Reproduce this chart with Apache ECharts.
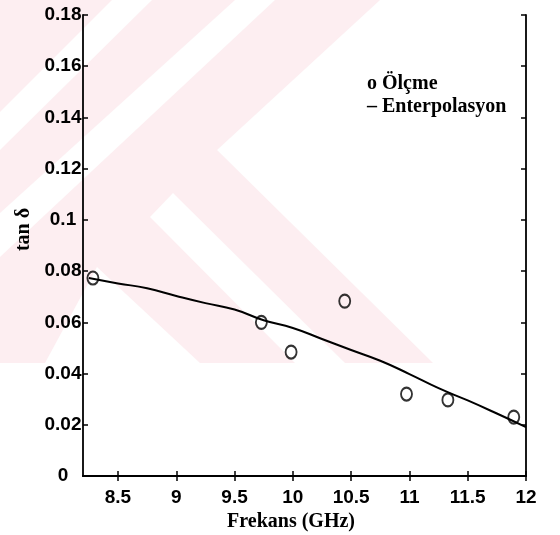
<!DOCTYPE html>
<html>
<head>
<meta charset="utf-8">
<script src="https://cdn.jsdelivr.net/npm/echarts@6/dist/echarts.min.js"></script>
<style>
  html, body { margin: 0; padding: 0; background: #fff; }
  #chart { width: 560px; height: 535px; }
</style>
</head>
<body>
<div id="chart"></div>
<script>
// tick positions
const xTicks = [8.5, 9, 9.5, 10, 10.5, 11, 11.5, 12]

// measured points (Ölçme)
const measFreq = [8.285, 9.73, 9.985, 10.445, 10.975, 11.33, 11.895]
const measTan = [0.0773, 0.060, 0.0484, 0.0683, 0.032, 0.0297, 0.023]

// interpolation curve (Enterpolasyon)
const fitFreq = [8.25, 8.5, 8.75, 9.0, 9.25, 9.5, 9.75, 10.0, 10.25, 10.5, 10.75, 11.0, 11.25, 11.5, 11.75, 12.0]
const fitTan = [0.0773, 0.0752, 0.0733, 0.0703, 0.0675, 0.0650, 0.0608, 0.0578, 0.0535, 0.0492, 0.0450, 0.0398, 0.0343, 0.0295, 0.0244, 0.0191]

const pink = '#fdeef1'
const sansBold = { fontFamily: 'Liberation Sans', fontWeight: 'bold', fontSize: 19, color: '#000' }
const serifBold = { fontFamily: 'Liberation Serif', fontWeight: 'bold', fontSize: 20, color: '#000' }

const axisLine = { show: true, lineStyle: { color: '#000', width: 1.8 } }
const tick = { inside: true, length: 5, lineStyle: { color: '#000', width: 1.5 } }

let myChart = echarts.init(document.getElementById('chart'))

myChart.setOption({
  animation: false,
  backgroundColor: '#fff',
  grid: { left: 83, right: 34, top: 15, bottom: 59, containLabel: false, outerBoundsMode: 'none' },
  // faint watermark in the background
  graphic: [
    { type: 'polygon', silent: true, z: -20, shape: { points: [[0, 0], [380, 0], [217, 150], [433, 363], [0, 363]] }, style: { fill: pink } },
    { type: 'polygon', silent: true, z: -19, shape: { points: [[112, 0], [152, 0], [0, 150], [0, 112]] }, style: { fill: '#fff' } },
    { type: 'polygon', silent: true, z: -19, shape: { points: [[235, 0], [275, 0], [0, 257], [0, 213]] }, style: { fill: '#fff' } },
    { type: 'polygon', silent: true, z: -19, shape: { points: [[150, 217], [173, 193], [345, 363], [295, 363]] }, style: { fill: '#fff' } },
    { type: 'polygon', silent: true, z: -19, shape: { points: [[97, 267], [200, 363], [45, 363]] }, style: { fill: '#fff' } }
  ],
  legend: {
    left: 356,
    top: 69,
    orient: 'vertical',
    itemWidth: 0,
    itemHeight: 0,
    itemGap: 3,
    selectedMode: false,
    textStyle: serifBold,
    formatter: name => (name === 'Ölçme' ? 'o ' : '– ') + name,
    data: ['Ölçme', 'Enterpolasyon']
  },
  xAxis: [
    {
      type: 'value',
      position: 'bottom',
      min: 8.2,
      max: 12,
      name: 'Frekans (GHz)',
      nameLocation: 'middle',
      nameGap: 36,
      nameTextStyle: Object.assign({ padding: [0, 27, 0, 0] }, serifBold),
      axisLine: axisLine,
      axisTick: Object.assign({ customValues: xTicks }, tick),
      axisLabel: Object.assign({ customValues: xTicks, margin: 12 }, sansBold),
      splitLine: { show: false }
    },
    {
      type: 'value',
      position: 'top',
      min: 8.2,
      max: 12,
      axisLine: axisLine,
      axisTick: Object.assign({ customValues: xTicks }, tick),
      axisLabel: { show: false },
      splitLine: { show: false }
    }
  ],
  yAxis: [
    {
      type: 'value',
      position: 'left',
      min: 0,
      max: 0.18,
      interval: 0.02,
      name: 'tan δ',
      nameLocation: 'middle',
      nameGap: 48,
      nameTextStyle: Object.assign({ padding: [0, 0, 0, 32] }, serifBold),
      axisLine: axisLine,
      axisTick: tick,
      axisLabel: Object.assign({ align: 'center', margin: 20 }, sansBold),
      splitLine: { show: false }
    },
    {
      type: 'value',
      position: 'right',
      min: 0,
      max: 0.18,
      interval: 0.02,
      axisLine: axisLine,
      axisTick: tick,
      axisLabel: { show: false },
      splitLine: { show: false }
    }
  ],
  series: [
    {
      name: 'Ölçme',
      type: 'scatter',
      symbol: 'circle',
      symbolSize: [11, 13],
      itemStyle: { color: 'rgba(0,0,0,0)', borderColor: '#000', borderWidth: 2 },
      data: measFreq.map((f, i) => [f, measTan[i]]),
      z: 3
    },
    {
      name: 'Enterpolasyon',
      type: 'line',
      smooth: true,
      symbol: 'none',
      lineStyle: { color: '#000', width: 2 },
      itemStyle: { color: '#000' },
      data: fitFreq.map((f, i) => [f, fitTan[i]]),
      z: 2
    }
  ]
})
</script>
</body>
</html>
